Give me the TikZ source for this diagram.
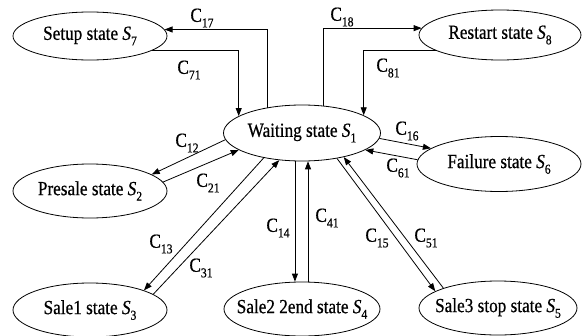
\documentclass[tikz,border=0pt]{standalone}
\usepackage{fontspec}
\setmainfont[FakeStretch=0.86,FakeBold=0.6]{Liberation Serif}
\usetikzlibrary{arrows.meta,shapes.geometric}
\newcommand{\lowsub}[1]{\raisebox{-0.28em}{\fontsize{13.5}{14}\selectfont #1}}

\begin{document}
\begin{tikzpicture}[x=1pt,y=-1pt,
        state/.style={draw, ellipse, line width=0.8pt, inner sep=0pt,
            font=\fontsize{20}{22}\selectfont},
        flow/.style={-{Triangle[length=8pt,width=6pt]}, line width=0.8pt},
        lbl/.style={font=\fontsize{20}{22}\selectfont, inner sep=1pt}]
            \useasboundingbox (0,0) rectangle (584,335);
            % states
            \foreach \n/\x/\y/\w/\h/\t in
                {s1/302/133/157/56/{Waiting state \textit{S}\lowsub{1}},
                 s2/90/191/154/54/{Presale state \textit{S}\lowsub{2}},
                 s3/90/310/154/54/{Sale1 state \textit{S}\lowsub{3}},
                 s4/302/309/156/54/{Sale2 2end state \textit{S}\lowsub{4}},
                 s5/498/308/158/54/{Sale3 stop state \textit{S}\lowsub{5}},
                 s6/499/164/164/55/{Failure state \textit{S}\lowsub{6}},
                 s7/90/36/154/48/{Setup state \textit{S}\lowsub{7}},
                 s8/500/35/162/50/{Restart state \textit{S}\lowsub{8}}}
                \node[state, minimum width=\w pt, minimum height=\h pt] (\n) at (\x,\y) {\makebox[0pt]{\t}};

            % conditions
            \foreach \c/\x/\y in {17/202/18, 18/342/17, 71/189/70, 81/388/68,
                                  12/187/143, 21/208/183, 13/161/244, 31/201/268,
                                  14/278/228, 41/327/218, 15/377/238, 51/426/238,
                                  16/407/131, 61/398/168}
                \node[lbl] (c\c) at (\x,\y) {C\lowsub{\c}};

            \draw[flow] (s1.144.5) |- (s7.5);
            \draw[flow] (s7.347) -| (s1.165);
            \draw[flow] (s1.52) |- (s8.175.5);
            \draw[flow] (s8.194.5) -| (s1.16);
            \draw[flow] (s1.185) -- (s2.15);
            \draw[flow] (s2.7) -- (s1.195);
            \draw[flow] (s1.213.6) -- (s3.20);
            \draw[flow] (s3.14) -- (s1.230.7);
            \draw[flow] (s1.256) -- (s1.256 |- s4.north);
            \draw[flow] (s4.north -| s1.282) -- (s1.282);
            \draw[flow] (s1.324.5) -- (s5.165);
            \draw[flow] (s5.160) -- (s1.330.7);
            \draw[flow] (s1.356) -- (s6.167);
            \draw[flow] (s6.177) -- (s1.345);
        \end{tikzpicture}
\end{document}
